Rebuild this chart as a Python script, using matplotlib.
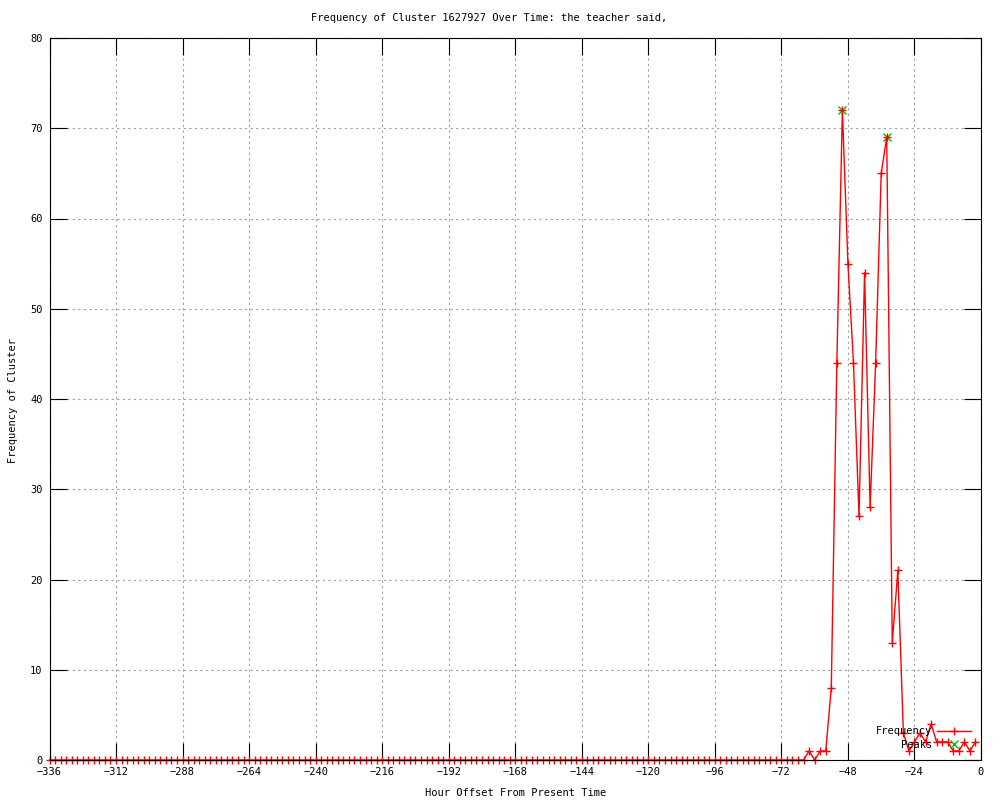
import numpy as np
import matplotlib
matplotlib.use('Agg')
import matplotlib.pyplot as plt

# hourly buckets, one point every 2 hours
hours = np.arange(-336, 0, 2)
frequency = [
    0, 0, 0, 0, 0, 0, 0, 0, 0, 0, 0, 0, 0, 0, 0, 0, 0, 0, 0, 0,
    0, 0, 0, 0, 0, 0, 0, 0, 0, 0, 0, 0, 0, 0, 0, 0, 0, 0, 0, 0,
    0, 0, 0, 0, 0, 0, 0, 0, 0, 0, 0, 0, 0, 0, 0, 0, 0, 0, 0, 0,
    0, 0, 0, 0, 0, 0, 0, 0, 0, 0, 0, 0, 0, 0, 0, 0, 0, 0, 0, 0,
    0, 0, 0, 0, 0, 0, 0, 0, 0, 0, 0, 0, 0, 0, 0, 0, 0, 0, 0, 0,
    0, 0, 0, 0, 0, 0, 0, 0, 0, 0, 0, 0, 0, 0, 0, 0, 0, 0, 0, 0,
    0, 0, 0, 0, 0, 0, 0, 0, 0, 0, 0, 0, 0, 0,
    # -68 .. -2
    0, 0, 0, 1, 0, 1, 1, 8, 44, 72, 55, 44, 27, 54, 28, 44, 65, 69,
    13, 21, 3, 1, 2, 3, 2, 4, 2, 2, 2, 1, 1, 2, 1, 2,
]
peak_hours = [-50, -34]
peak_values = [72, 69]

x_ticks = list(range(-336, 1, 24))
y_ticks = list(range(0, 81, 10))

title = "Frequency of Cluster 1627927 Over Time: the teacher said,"

plt.rcParams['font.family'] = ['DejaVu Sans Mono']
plt.rcParams['font.size'] = 7.5

fig = plt.figure(figsize=(10, 8), dpi=100)
ax = fig.add_axes([0.0495, 0.05, 0.9315, 0.9025])

ax.plot(hours, frequency, color='red', lw=1, marker='+', ms=6, mew=1,
        label='Frequency', clip_on=False, zorder=2)
ax.plot(peak_hours, peak_values, ls='none', color='#00c000', marker='x',
        ms=6, mew=1, label='    Peaks', zorder=1.9)

ax.set_xlim(-336, 0)
ax.set_ylim(0, 80)
ax.set_xticks(x_ticks)
ax.set_yticks(y_ticks)
ax.grid(True, color='#a0a0a0', ls=(0, (2, 3)), lw=0.8)
ax.set_axisbelow(True)
ax.tick_params(direction='in', length=12, width=0.8, top=True, right=True, pad=5)
for s in ax.spines.values():
    s.set_linewidth(0.8)

fig.text(0.4895, 1 - 18 / 800, title, ha='center', va='center')
ax.set_xlabel('Hour Offset From Present Time', va='center')
ax.xaxis.set_label_coords(0.5, -0.0457)
ax.set_ylabel('Frequency of Cluster', va='center')
ax.yaxis.set_label_coords(-0.0392, 0.4986)

ax.legend(loc='lower right', frameon=False, markerfirst=False, handlelength=3.2,
          numpoints=1, borderaxespad=0.6, handletextpad=0.5, labelspacing=0.3)

fig.savefig('out.png', dpi=100)
